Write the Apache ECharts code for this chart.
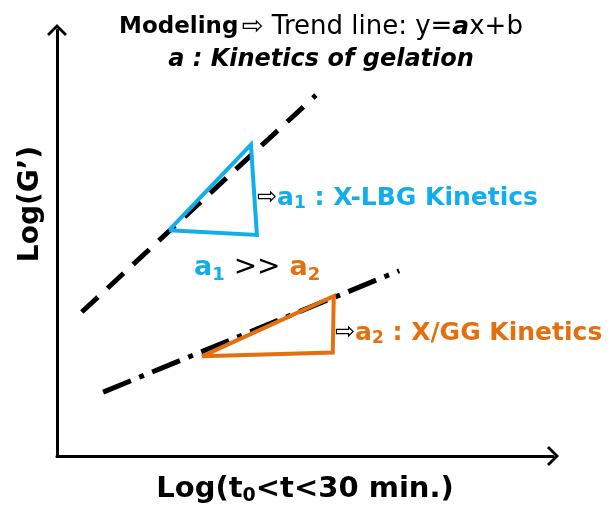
<!DOCTYPE html>
<html>
<head>
<meta charset="utf-8">
<script src="https://cdn.jsdelivr.net/npm/echarts@6/dist/echarts.min.js"></script>
<style>
  html, body { margin: 0; padding: 0; background: #fff; }
  #main { width: 610px; height: 511px; }
</style>
</head>
<body>
<div id="main"></div>
<script>
  // schematic values, axis units 0..10
  var trend1 = [[0.5, 3.38], [5.22, 8.47]];          // X-LBG trend line (dashed)
  var tri1 = [[2.26, 5.3], [3.91, 7.31], [4.03, 5.19], [2.26, 5.3]];
  var trend2 = [[0.93, 1.5], [6.9, 4.35]];           // X/GG trend line (dash-dot)
  var tri2 = [[2.92, 2.34], [5.58, 3.75], [5.56, 2.43], [2.92, 2.34]];

  var blue = '#12AEEB';
  var orange = '#E46F0E';
  var font = 'Tahoma, "DejaVu Sans", sans-serif';
  // open chevron used as axis arrow
  var chevron = 'path://M0,10 L10,0 L20,10 L18,12 L10,4 L2,12 Z';

  var chart = echarts.init(document.getElementById('main'));
  chart.setOption({
    animation: false,
    grid: { left: 57, right: 57, top: 30, bottom: 49 },
    xAxis: {
      type: 'value', min: 0, max: 10,
      name: '{t|Log(t}{s|0}{t|<t<30 min.)}',
      nameLocation: 'middle', nameGap: 17,
      nameTextStyle: {
        rich: {
          t: { fontFamily: font, fontSize: 29, fontWeight: 'bold', color: '#000' },
          s: { fontFamily: font, fontSize: 19, fontWeight: 'bold', color: '#000', padding: [14, 0, 0, 0] }
        }
      },
      axisLine: { show: true, symbol: ['none', chevron], symbolSize: [20, 13],
        lineStyle: { color: '#000', width: 3 } },
      axisTick: { show: false }, axisLabel: { show: false }, splitLine: { show: false }
    },
    yAxis: {
      type: 'value', min: 0, max: 10,
      axisLine: { show: true, symbol: ['none', chevron], symbolSize: [20, 13],
        lineStyle: { color: '#000', width: 3 } },
      axisTick: { show: false }, axisLabel: { show: false }, splitLine: { show: false }
    },
    series: [
      { type: 'line', data: trend1, symbol: 'none', silent: true,
        lineStyle: { color: '#000', width: 5, type: [22, 13] } },
      { type: 'line', data: trend2, symbol: 'none', silent: true,
        lineStyle: { color: '#000', width: 5, type: [30, 9, 5, 9] } },
      { type: 'line', data: tri1, symbol: 'none', silent: true,
        lineStyle: { color: blue, width: 4, join: 'miter' } },
      { type: 'line', data: tri2, symbol: 'none', silent: true,
        lineStyle: { color: orange, width: 4, join: 'miter' } }
    ],
    graphic: [
      {
        // y axis name, placed off-centre like the reference
        type: 'text', x: 31, y: 204, rotation: Math.PI / 2,
        style: {
          text: 'Log(G’)', align: 'center', verticalAlign: 'middle',
          font: 'bold 28px ' + font, fill: '#000'
        }
      },
      {
        type: 'text', x: 321, y: 27,
        style: {
          text: '{b|Modeling} {n|⇨ Trend line: y=}{bi|a}{n|x+b}',
          align: 'center', verticalAlign: 'middle',
          rich: {
            b: { fontFamily: font, fontSize: 23, fontWeight: 'bold', fill: '#000' },
            n: { fontFamily: font, fontSize: 26, fill: '#000' },
            bi: { fontFamily: font, fontSize: 25, fontWeight: 'bold', fontStyle: 'italic', fill: '#000' }
          }
        }
      },
      {
        type: 'text', x: 321, y: 60,
        style: {
          text: 'a : Kinetics of gelation',
          align: 'center', verticalAlign: 'middle',
          font: 'italic bold 24px ' + font, fill: '#000'
        }
      },
      {
        type: 'text', x: 257, y: 198,
        style: {
          text: '{w|⇨}{a|a}{s|1}{a| : X-LBG Kinetics}',
          align: 'left', verticalAlign: 'middle',
          rich: {
            w: { fontFamily: font, fontSize: 24, fill: '#000' },
            a: { fontFamily: font, fontSize: 25, fontWeight: 'bold', fill: blue },
            s: { fontFamily: font, fontSize: 17, fontWeight: 'bold', fill: blue, padding: [12, 0, 0, 0] }
          }
        }
      },
      {
        type: 'text', x: 194, y: 268,
        style: {
          text: '{a|a}{s|1}{k| >> }{o|a}{os|2}',
          align: 'left', verticalAlign: 'middle',
          rich: {
            a: { fontFamily: font, fontSize: 27, fontWeight: 'bold', fill: blue },
            s: { fontFamily: font, fontSize: 18, fontWeight: 'bold', fill: blue, padding: [14, 0, 0, 0] },
            k: { fontFamily: font, fontSize: 28, fill: '#000' },
            o: { fontFamily: font, fontSize: 27, fontWeight: 'bold', fill: orange },
            os: { fontFamily: font, fontSize: 18, fontWeight: 'bold', fill: orange, padding: [14, 0, 0, 0] }
          }
        }
      },
      {
        type: 'text', x: 335, y: 333,
        style: {
          text: '{w|⇨}{a|a}{s|2}{a| : X/GG Kinetics}',
          align: 'left', verticalAlign: 'middle',
          rich: {
            w: { fontFamily: font, fontSize: 24, fill: '#000' },
            a: { fontFamily: font, fontSize: 25, fontWeight: 'bold', fill: orange },
            s: { fontFamily: font, fontSize: 17, fontWeight: 'bold', fill: orange, padding: [12, 0, 0, 0] }
          }
        }
      }
    ]
  });
</script>
</body>
</html>
